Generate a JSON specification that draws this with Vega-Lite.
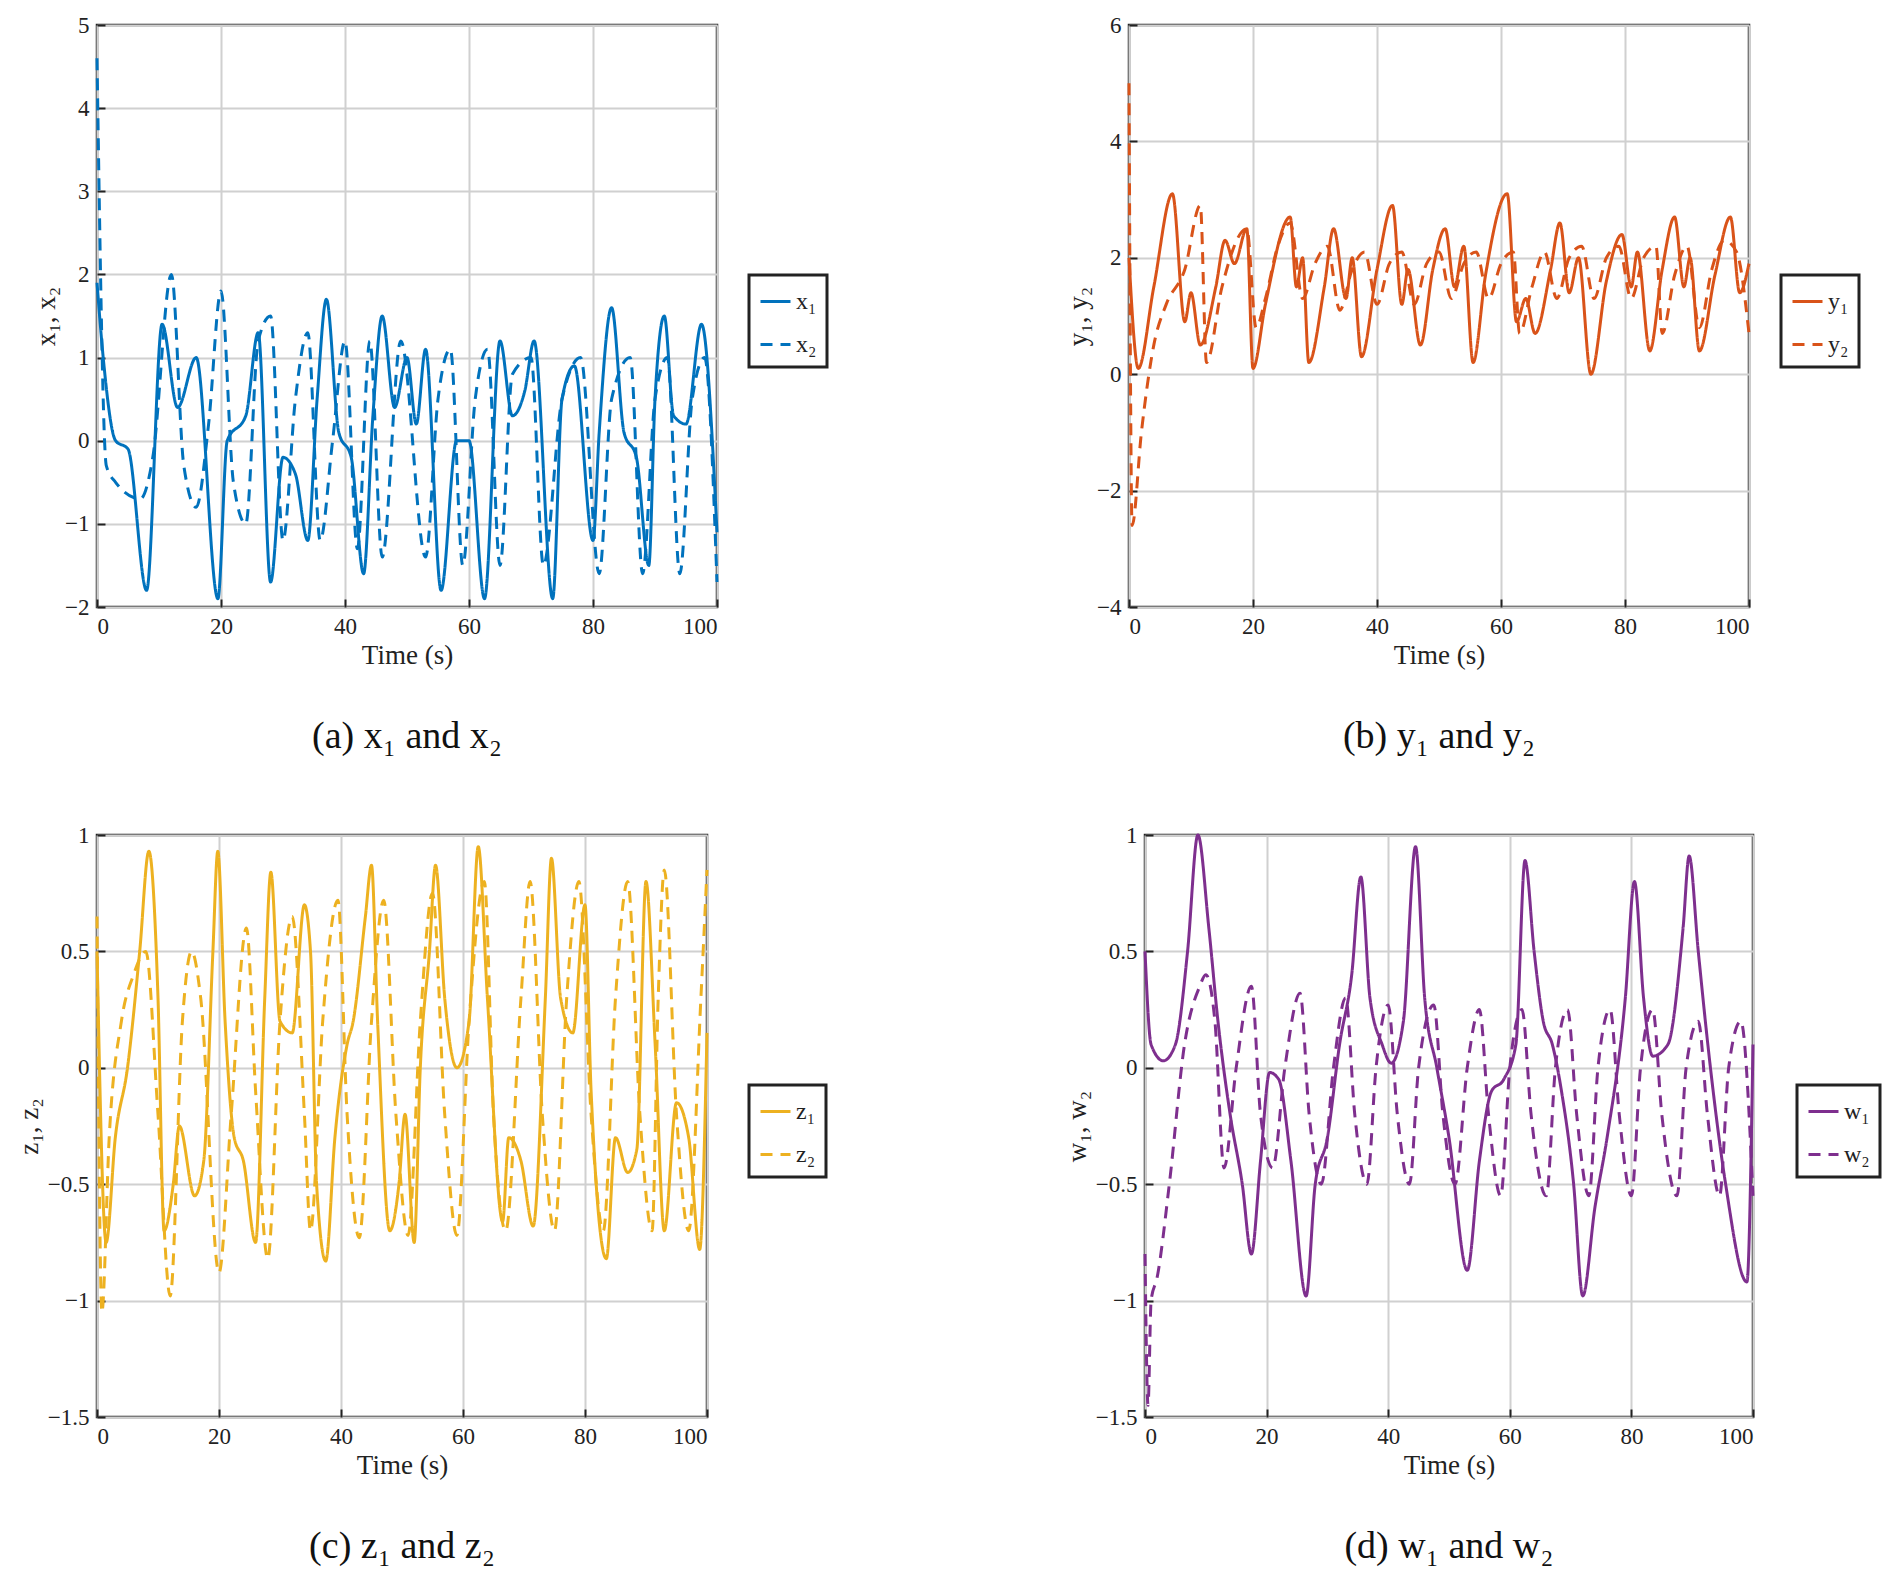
{
  "$schema": "https://vega.github.io/schema/vega-lite/v6.json",
  "background": "white",
  "padding": {"left": 14, "top": 12, "right": 10, "bottom": 10},
  "config": {
    "font": "Liberation Serif",
    "view": {"stroke": "#222", "strokeWidth": 2.5},
    "axis": {"labelFont": "Liberation Serif", "titleFont": "Liberation Serif", "labelFontSize": 23, "titleFontSize": 27, "titleFontWeight": "normal", "labelColor": "#222", "titleColor": "#222", "gridColor": "#d0d0d0", "gridWidth": 2, "domain": false, "tickColor": "#222", "tickWidth": 2, "tickSize": -8, "labelPadding": 16, "format": "~r"},
    "legend": {"orient": "none", "legendX": 652, "legendY": 250, "title": null, "strokeColor": "#222", "strokeWidth": 3, "padding": 10, "fillColor": "white", "labelFont": "Liberation Serif", "labelFontSize": 24, "symbolType": "stroke", "symbolSize": 900, "symbolStrokeWidth": 3, "rowPadding": 14, "labelColor": "#222", "direction": "vertical"},
    "title": {"orient": "bottom", "font": "Liberation Serif", "fontSize": 38, "fontWeight": "normal", "color": "#111", "offset": 50},
    "line": {"strokeWidth": 3, "interpolate": "monotone"}
  },
  "datasets": {
    "a": [
      {"s":"x₁","t":0,"v":1.9},{"s":"x₁","t":1,"v":1.0},{"s":"x₁","t":3,"v":0.0},{"s":"x₁","t":5,"v":-0.1},{"s":"x₁","t":8,"v":-1.8},{"s":"x₁","t":10.5,"v":1.4},{"s":"x₁","t":13,"v":0.4},{"s":"x₁","t":16,"v":1.0},{"s":"x₁","t":19.5,"v":-1.9},{"s":"x₁","t":21,"v":0},{"s":"x₁","t":24,"v":0.3},{"s":"x₁","t":26,"v":1.3},{"s":"x₁","t":28,"v":-1.7},{"s":"x₁","t":30,"v":-0.2},{"s":"x₁","t":32,"v":-0.4},{"s":"x₁","t":34,"v":-1.2},{"s":"x₁","t":35.5,"v":0.5},{"s":"x₁","t":37,"v":1.7},{"s":"x₁","t":39,"v":0.1},{"s":"x₁","t":41,"v":-0.2},{"s":"x₁","t":43,"v":-1.6},{"s":"x₁","t":44.5,"v":0.3},{"s":"x₁","t":46,"v":1.5},{"s":"x₁","t":48,"v":0.4},{"s":"x₁","t":50,"v":1.0},{"s":"x₁","t":51.5,"v":0.2},{"s":"x₁","t":53,"v":1.1},{"s":"x₁","t":55.5,"v":-1.8},{"s":"x₁","t":58,"v":0.0},{"s":"x₁","t":60,"v":0},{"s":"x₁","t":62.5,"v":-1.9},{"s":"x₁","t":65,"v":1.2},{"s":"x₁","t":67,"v":0.3},{"s":"x₁","t":69,"v":0.6},{"s":"x₁","t":70.5,"v":1.2},{"s":"x₁","t":73.5,"v":-1.9},{"s":"x₁","t":75,"v":0.5},{"s":"x₁","t":77,"v":0.9},{"s":"x₁","t":80,"v":-1.2},{"s":"x₁","t":81,"v":0.1},{"s":"x₁","t":83,"v":1.6},{"s":"x₁","t":85,"v":0.1},{"s":"x₁","t":87,"v":-0.2},{"s":"x₁","t":89,"v":-1.5},{"s":"x₁","t":90,"v":0.5},{"s":"x₁","t":91.5,"v":1.5},{"s":"x₁","t":93,"v":0.3},{"s":"x₁","t":95,"v":0.2},{"s":"x₁","t":97.5,"v":1.4},{"s":"x₁","t":100,"v":-1.1},
      {"s":"x₂","t":0,"v":4.6},{"s":"x₂","t":1.5,"v":-0.3},{"s":"x₂","t":3,"v":-0.5},{"s":"x₂","t":7,"v":-0.7},{"s":"x₂","t":9,"v":-0.2},{"s":"x₂","t":12,"v":2.0},{"s":"x₂","t":14,"v":-0.3},{"s":"x₂","t":16,"v":-0.8},{"s":"x₂","t":18,"v":0.2},{"s":"x₂","t":20,"v":1.8},{"s":"x₂","t":22,"v":-0.5},{"s":"x₂","t":24,"v":-1.0},{"s":"x₂","t":26,"v":1.2},{"s":"x₂","t":28,"v":1.5},{"s":"x₂","t":30,"v":-1.2},{"s":"x₂","t":32,"v":0.5},{"s":"x₂","t":34,"v":1.3},{"s":"x₂","t":36,"v":-1.2},{"s":"x₂","t":38,"v":0},{"s":"x₂","t":40,"v":1.2},{"s":"x₂","t":42,"v":-1.3},{"s":"x₂","t":44,"v":1.2},{"s":"x₂","t":46,"v":-1.4},{"s":"x₂","t":49,"v":1.2},{"s":"x₂","t":53,"v":-1.4},{"s":"x₂","t":55,"v":0.5},{"s":"x₂","t":57,"v":1.1},{"s":"x₂","t":59,"v":-1.5},{"s":"x₂","t":61,"v":0.5},{"s":"x₂","t":63,"v":1.1},{"s":"x₂","t":65,"v":-1.5},{"s":"x₂","t":67,"v":0.8},{"s":"x₂","t":70,"v":1.0},{"s":"x₂","t":72,"v":-1.5},{"s":"x₂","t":75,"v":0.5},{"s":"x₂","t":78,"v":1.0},{"s":"x₂","t":81,"v":-1.6},{"s":"x₂","t":83,"v":0.5},{"s":"x₂","t":86,"v":1.0},{"s":"x₂","t":88,"v":-1.6},{"s":"x₂","t":90,"v":0.5},{"s":"x₂","t":92,"v":1.0},{"s":"x₂","t":94,"v":-1.6},{"s":"x₂","t":96,"v":0.5},{"s":"x₂","t":98,"v":1.0},{"s":"x₂","t":100,"v":-1.7}
    ],
    "b": [
      {"s":"y₁","t":0,"v":2.0},{"s":"y₁","t":1.5,"v":0.1},{"s":"y₁","t":4,"v":1.5},{"s":"y₁","t":7,"v":3.1},{"s":"y₁","t":9,"v":0.9},{"s":"y₁","t":10,"v":1.4},{"s":"y₁","t":11.5,"v":0.5},{"s":"y₁","t":14,"v":1.5},{"s":"y₁","t":15.5,"v":2.3},{"s":"y₁","t":17,"v":1.9},{"s":"y₁","t":19,"v":2.5},{"s":"y₁","t":20,"v":0.1},{"s":"y₁","t":22,"v":1.2},{"s":"y₁","t":26,"v":2.7},{"s":"y₁","t":27,"v":1.5},{"s":"y₁","t":28,"v":2.0},{"s":"y₁","t":29,"v":0.2},{"s":"y₁","t":31.5,"v":1.5},{"s":"y₁","t":33,"v":2.5},{"s":"y₁","t":35,"v":1.3},{"s":"y₁","t":36,"v":2.0},{"s":"y₁","t":37.5,"v":0.3},{"s":"y₁","t":40,"v":1.8},{"s":"y₁","t":42.5,"v":2.9},{"s":"y₁","t":44,"v":1.2},{"s":"y₁","t":45,"v":1.8},{"s":"y₁","t":47,"v":0.5},{"s":"y₁","t":49,"v":1.8},{"s":"y₁","t":51,"v":2.5},{"s":"y₁","t":52.5,"v":1.5},{"s":"y₁","t":54,"v":2.2},{"s":"y₁","t":55.5,"v":0.2},{"s":"y₁","t":57.5,"v":1.7},{"s":"y₁","t":61,"v":3.1},{"s":"y₁","t":62.5,"v":0.9},{"s":"y₁","t":64,"v":1.3},{"s":"y₁","t":65.5,"v":0.7},{"s":"y₁","t":68,"v":1.8},{"s":"y₁","t":69.5,"v":2.6},{"s":"y₁","t":71,"v":1.4},{"s":"y₁","t":72.5,"v":2.0},{"s":"y₁","t":74.5,"v":0.0},{"s":"y₁","t":77,"v":1.6},{"s":"y₁","t":79.5,"v":2.4},{"s":"y₁","t":81,"v":1.5},{"s":"y₁","t":82,"v":2.1},{"s":"y₁","t":84,"v":0.4},{"s":"y₁","t":86,"v":1.8},{"s":"y₁","t":88,"v":2.7},{"s":"y₁","t":89.5,"v":1.5},{"s":"y₁","t":90.5,"v":2.0},{"s":"y₁","t":92,"v":0.4},{"s":"y₁","t":94.5,"v":1.7},{"s":"y₁","t":97,"v":2.7},{"s":"y₁","t":98.5,"v":1.4},{"s":"y₁","t":100,"v":1.9},
      {"s":"y₂","t":0,"v":5.0},{"s":"y₂","t":0.5,"v":-2.6},{"s":"y₂","t":2,"v":-1.0},{"s":"y₂","t":4,"v":0.5},{"s":"y₂","t":6,"v":1.2},{"s":"y₂","t":9,"v":1.8},{"s":"y₂","t":11.5,"v":2.9},{"s":"y₂","t":12.5,"v":0.2},{"s":"y₂","t":15,"v":1.5},{"s":"y₂","t":19,"v":2.5},{"s":"y₂","t":20.5,"v":0.8},{"s":"y₂","t":22,"v":1.3},{"s":"y₂","t":24,"v":2.2},{"s":"y₂","t":26,"v":2.6},{"s":"y₂","t":28,"v":1.3},{"s":"y₂","t":30,"v":1.9},{"s":"y₂","t":32,"v":2.2},{"s":"y₂","t":34,"v":1.1},{"s":"y₂","t":36,"v":1.8},{"s":"y₂","t":38,"v":2.1},{"s":"y₂","t":40,"v":1.2},{"s":"y₂","t":42,"v":1.9},{"s":"y₂","t":44,"v":2.1},{"s":"y₂","t":46,"v":1.2},{"s":"y₂","t":48,"v":1.9},{"s":"y₂","t":50,"v":2.1},{"s":"y₂","t":52,"v":1.3},{"s":"y₂","t":54,"v":1.9},{"s":"y₂","t":56,"v":2.1},{"s":"y₂","t":58,"v":1.3},{"s":"y₂","t":60,"v":1.9},{"s":"y₂","t":62,"v":2.1},{"s":"y₂","t":63,"v":0.7},{"s":"y₂","t":65,"v":1.5},{"s":"y₂","t":67,"v":2.1},{"s":"y₂","t":69,"v":1.3},{"s":"y₂","t":71,"v":2.0},{"s":"y₂","t":73,"v":2.2},{"s":"y₂","t":75,"v":1.3},{"s":"y₂","t":77,"v":2.0},{"s":"y₂","t":79,"v":2.2},{"s":"y₂","t":81,"v":1.3},{"s":"y₂","t":83,"v":2.0},{"s":"y₂","t":85,"v":2.2},{"s":"y₂","t":86,"v":0.7},{"s":"y₂","t":88,"v":1.7},{"s":"y₂","t":90,"v":2.2},{"s":"y₂","t":92,"v":0.8},{"s":"y₂","t":94,"v":1.8},{"s":"y₂","t":96,"v":2.3},{"s":"y₂","t":98,"v":2.1},{"s":"y₂","t":100,"v":0.7}
    ],
    "c": [
      {"s":"z₁","t":0,"v":0.5},{"s":"z₁","t":1.5,"v":-0.75},{"s":"z₁","t":3,"v":-0.3},{"s":"z₁","t":5,"v":0},{"s":"z₁","t":7,"v":0.5},{"s":"z₁","t":8.5,"v":0.93},{"s":"z₁","t":10,"v":0.3},{"s":"z₁","t":11,"v":-0.7},{"s":"z₁","t":12.5,"v":-0.5},{"s":"z₁","t":13.5,"v":-0.25},{"s":"z₁","t":16,"v":-0.55},{"s":"z₁","t":17.5,"v":-0.4},{"s":"z₁","t":19,"v":0.5},{"s":"z₁","t":19.8,"v":0.93},{"s":"z₁","t":21,"v":0.2},{"s":"z₁","t":22.5,"v":-0.3},{"s":"z₁","t":24,"v":-0.4},{"s":"z₁","t":26,"v":-0.75},{"s":"z₁","t":27.5,"v":0.3},{"s":"z₁","t":28.5,"v":0.84},{"s":"z₁","t":30,"v":0.2},{"s":"z₁","t":32,"v":0.15},{"s":"z₁","t":34,"v":0.7},{"s":"z₁","t":35,"v":0.5},{"s":"z₁","t":36,"v":-0.5},{"s":"z₁","t":37.5,"v":-0.83},{"s":"z₁","t":39,"v":-0.3},{"s":"z₁","t":41,"v":0.1},{"s":"z₁","t":42,"v":0.2},{"s":"z₁","t":44,"v":0.65},{"s":"z₁","t":45,"v":0.87},{"s":"z₁","t":46,"v":0.2},{"s":"z₁","t":48,"v":-0.7},{"s":"z₁","t":49.5,"v":-0.5},{"s":"z₁","t":50.5,"v":-0.2},{"s":"z₁","t":52,"v":-0.75},{"s":"z₁","t":53,"v":0},{"s":"z₁","t":54.5,"v":0.5},{"s":"z₁","t":55.5,"v":0.87},{"s":"z₁","t":57,"v":0.3},{"s":"z₁","t":59,"v":0.0},{"s":"z₁","t":61,"v":0.2},{"s":"z₁","t":62.5,"v":0.95},{"s":"z₁","t":64,"v":0.3},{"s":"z₁","t":66.5,"v":-0.66},{"s":"z₁","t":67.5,"v":-0.3},{"s":"z₁","t":69.5,"v":-0.4},{"s":"z₁","t":71.5,"v":-0.68},{"s":"z₁","t":73.5,"v":0.3},{"s":"z₁","t":74.5,"v":0.9},{"s":"z₁","t":76,"v":0.3},{"s":"z₁","t":78,"v":0.15},{"s":"z₁","t":80,"v":0.7},{"s":"z₁","t":81,"v":-0.1},{"s":"z₁","t":83.5,"v":-0.82},{"s":"z₁","t":85,"v":-0.3},{"s":"z₁","t":87,"v":-0.45},{"s":"z₁","t":88.5,"v":-0.35},{"s":"z₁","t":90,"v":0.8},{"s":"z₁","t":91.5,"v":0.1},{"s":"z₁","t":93,"v":-0.7},{"s":"z₁","t":95,"v":-0.15},{"s":"z₁","t":97,"v":-0.3},{"s":"z₁","t":98.8,"v":-0.78},{"s":"z₁","t":100,"v":0.15},
      {"s":"z₂","t":0,"v":0.65},{"s":"z₂","t":0.8,"v":-1.05},{"s":"z₂","t":2,"v":-0.3},{"s":"z₂","t":4,"v":0.2},{"s":"z₂","t":6,"v":0.4},{"s":"z₂","t":8,"v":0.5},{"s":"z₂","t":10,"v":-0.2},{"s":"z₂","t":12,"v":-0.98},{"s":"z₂","t":14,"v":0.2},{"s":"z₂","t":15.5,"v":0.5},{"s":"z₂","t":17,"v":0.3},{"s":"z₂","t":20,"v":-0.88},{"s":"z₂","t":22,"v":-0.2},{"s":"z₂","t":24.5,"v":0.6},{"s":"z₂","t":26,"v":-0.1},{"s":"z₂","t":28,"v":-0.82},{"s":"z₂","t":30,"v":0.2},{"s":"z₂","t":32,"v":0.65},{"s":"z₂","t":34,"v":-0.2},{"s":"z₂","t":35,"v":-0.7},{"s":"z₂","t":37,"v":0.2},{"s":"z₂","t":39.5,"v":0.72},{"s":"z₂","t":41,"v":-0.2},{"s":"z₂","t":43,"v":-0.73},{"s":"z₂","t":45,"v":0.2},{"s":"z₂","t":47,"v":0.72},{"s":"z₂","t":49,"v":-0.2},{"s":"z₂","t":51,"v":-0.72},{"s":"z₂","t":53,"v":0.2},{"s":"z₂","t":55,"v":0.75},{"s":"z₂","t":57,"v":-0.2},{"s":"z₂","t":59,"v":-0.72},{"s":"z₂","t":61,"v":0.2},{"s":"z₂","t":63.5,"v":0.8},{"s":"z₂","t":65,"v":-0.2},{"s":"z₂","t":67,"v":-0.7},{"s":"z₂","t":69.5,"v":0.3},{"s":"z₂","t":71,"v":0.8},{"s":"z₂","t":73,"v":-0.2},{"s":"z₂","t":75,"v":-0.7},{"s":"z₂","t":77,"v":0.3},{"s":"z₂","t":79,"v":0.8},{"s":"z₂","t":81,"v":-0.2},{"s":"z₂","t":83,"v":-0.7},{"s":"z₂","t":85,"v":0.3},{"s":"z₂","t":87,"v":0.8},{"s":"z₂","t":89,"v":-0.2},{"s":"z₂","t":91,"v":-0.7},{"s":"z₂","t":92,"v":0.3},{"s":"z₂","t":93,"v":0.85},{"s":"z₂","t":95,"v":-0.2},{"s":"z₂","t":97,"v":-0.7},{"s":"z₂","t":99,"v":0.3},{"s":"z₂","t":100,"v":0.85}
    ],
    "d": [
      {"s":"w₁","t":0,"v":0.5},{"s":"w₁","t":1,"v":0.1},{"s":"w₁","t":3,"v":0.03},{"s":"w₁","t":5,"v":0.1},{"s":"w₁","t":7,"v":0.5},{"s":"w₁","t":8.7,"v":1.0},{"s":"w₁","t":10.5,"v":0.6},{"s":"w₁","t":12,"v":0.2},{"s":"w₁","t":14,"v":-0.2},{"s":"w₁","t":16,"v":-0.5},{"s":"w₁","t":17.5,"v":-0.8},{"s":"w₁","t":19,"v":-0.4},{"s":"w₁","t":20.5,"v":-0.02},{"s":"w₁","t":22,"v":-0.05},{"s":"w₁","t":24,"v":-0.4},{"s":"w₁","t":26.5,"v":-0.98},{"s":"w₁","t":28,"v":-0.5},{"s":"w₁","t":30,"v":-0.3},{"s":"w₁","t":32,"v":0.1},{"s":"w₁","t":34,"v":0.4},{"s":"w₁","t":35.5,"v":0.82},{"s":"w₁","t":37,"v":0.3},{"s":"w₁","t":39,"v":0.1},{"s":"w₁","t":40.5,"v":0.02},{"s":"w₁","t":42.5,"v":0.2},{"s":"w₁","t":44.5,"v":0.95},{"s":"w₁","t":46,"v":0.3},{"s":"w₁","t":48,"v":0.0},{"s":"w₁","t":50,"v":-0.3},{"s":"w₁","t":53,"v":-0.87},{"s":"w₁","t":55,"v":-0.4},{"s":"w₁","t":57,"v":-0.1},{"s":"w₁","t":59,"v":-0.05},{"s":"w₁","t":61,"v":0.1},{"s":"w₁","t":62.5,"v":0.89},{"s":"w₁","t":64,"v":0.5},{"s":"w₁","t":65.5,"v":0.2},{"s":"w₁","t":67,"v":0.1},{"s":"w₁","t":68.5,"v":-0.1},{"s":"w₁","t":70.5,"v":-0.5},{"s":"w₁","t":72,"v":-0.98},{"s":"w₁","t":74,"v":-0.6},{"s":"w₁","t":76,"v":-0.3},{"s":"w₁","t":79,"v":0.3},{"s":"w₁","t":80.5,"v":0.8},{"s":"w₁","t":82,"v":0.3},{"s":"w₁","t":83.5,"v":0.05},{"s":"w₁","t":86,"v":0.1},{"s":"w₁","t":88.5,"v":0.6},{"s":"w₁","t":89.5,"v":0.91},{"s":"w₁","t":91,"v":0.5},{"s":"w₁","t":93,"v":0.0},{"s":"w₁","t":95.5,"v":-0.5},{"s":"w₁","t":99,"v":-0.92},{"s":"w₁","t":100,"v":0.1},
      {"s":"w₂","t":0,"v":-0.8},{"s":"w₂","t":0.5,"v":-1.45},{"s":"w₂","t":1,"v":-1.0},{"s":"w₂","t":2,"v":-0.9},{"s":"w₂","t":4,"v":-0.5},{"s":"w₂","t":6.5,"v":0.1},{"s":"w₂","t":9,"v":0.35},{"s":"w₂","t":10,"v":0.4},{"s":"w₂","t":11.5,"v":0.2},{"s":"w₂","t":13,"v":-0.43},{"s":"w₂","t":15,"v":0.0},{"s":"w₂","t":17.5,"v":0.35},{"s":"w₂","t":19,"v":-0.2},{"s":"w₂","t":21,"v":-0.43},{"s":"w₂","t":23,"v":0.0},{"s":"w₂","t":25.5,"v":0.32},{"s":"w₂","t":27,"v":-0.2},{"s":"w₂","t":29,"v":-0.5},{"s":"w₂","t":31,"v":0.0},{"s":"w₂","t":33,"v":0.3},{"s":"w₂","t":34.5,"v":-0.2},{"s":"w₂","t":36.5,"v":-0.5},{"s":"w₂","t":38,"v":0.0},{"s":"w₂","t":40,"v":0.27},{"s":"w₂","t":41.5,"v":-0.2},{"s":"w₂","t":43.5,"v":-0.5},{"s":"w₂","t":45,"v":0.0},{"s":"w₂","t":47.5,"v":0.27},{"s":"w₂","t":49,"v":-0.2},{"s":"w₂","t":51,"v":-0.5},{"s":"w₂","t":53,"v":0.0},{"s":"w₂","t":55,"v":0.25},{"s":"w₂","t":56.5,"v":-0.2},{"s":"w₂","t":58.5,"v":-0.55},{"s":"w₂","t":60,"v":0.0},{"s":"w₂","t":62,"v":0.25},{"s":"w₂","t":63.5,"v":-0.2},{"s":"w₂","t":66,"v":-0.55},{"s":"w₂","t":67.5,"v":0.0},{"s":"w₂","t":69.5,"v":0.25},{"s":"w₂","t":71,"v":-0.2},{"s":"w₂","t":73,"v":-0.55},{"s":"w₂","t":74.5,"v":0.0},{"s":"w₂","t":76.5,"v":0.25},{"s":"w₂","t":78,"v":-0.2},{"s":"w₂","t":80,"v":-0.55},{"s":"w₂","t":81.5,"v":0.0},{"s":"w₂","t":83.5,"v":0.25},{"s":"w₂","t":85,"v":-0.2},{"s":"w₂","t":87.5,"v":-0.55},{"s":"w₂","t":89,"v":0.0},{"s":"w₂","t":91,"v":0.2},{"s":"w₂","t":92.5,"v":-0.2},{"s":"w₂","t":94.5,"v":-0.55},{"s":"w₂","t":96,"v":0.0},{"s":"w₂","t":98,"v":0.2},{"s":"w₂","t":100,"v":-0.55}
    ]
  },
  "resolve": {"scale": {"color": "independent", "strokeDash": "independent"}, "legend": {"color": "independent", "strokeDash": "independent"}},
  "vconcat": [
    {
      "hconcat": [
        {
          "data": {"name": "a"}, "width": 620, "height": 582, "mark": "line",
          "title": "(a) x₁ and x₂",
          "encoding": {
            "x": {"field": "t", "type": "quantitative", "title": "Time (s)", "scale": {"domain": [0, 100], "nice": false}, "axis": {"values": [0, 20, 40, 60, 80, 100]}},
            "y": {"field": "v", "type": "quantitative", "title": "x₁, x₂", "scale": {"domain": [-2, 5], "nice": false}, "axis": {"values": [-2, -1, 0, 1, 2, 3, 4, 5]}},
            "color": {"field": "s", "type": "nominal", "scale": {"range": ["#0072BD", "#0072BD"]}},
            "strokeDash": {"field": "s", "type": "nominal", "scale": {"range": [[1, 0], [12, 8]]}}
          }
        },
        {
          "data": {"name": "b"}, "width": 620, "height": 582, "mark": "line",
          "title": "(b) y₁ and y₂",
          "encoding": {
            "x": {"field": "t", "type": "quantitative", "title": "Time (s)", "scale": {"domain": [0, 100], "nice": false}, "axis": {"values": [0, 20, 40, 60, 80, 100]}},
            "y": {"field": "v", "type": "quantitative", "title": "y₁, y₂", "scale": {"domain": [-4, 6], "nice": false}, "axis": {"values": [-4, -2, 0, 2, 4, 6]}},
            "color": {"field": "s", "type": "nominal", "scale": {"range": ["#D95319", "#D95319"]}},
            "strokeDash": {"field": "s", "type": "nominal", "scale": {"range": [[1, 0], [12, 8]]}}
          }
        }
      ],
      "spacing": 233,
      "resolve": {"scale": {"color": "independent", "strokeDash": "independent"}, "legend": {"color": "independent", "strokeDash": "independent"}}
    },
    {
      "hconcat": [
        {
          "data": {"name": "c"}, "width": 610, "height": 582, "mark": "line",
          "title": "(c) z₁ and z₂",
          "encoding": {
            "x": {"field": "t", "type": "quantitative", "title": "Time (s)", "scale": {"domain": [0, 100], "nice": false}, "axis": {"values": [0, 20, 40, 60, 80, 100]}},
            "y": {"field": "v", "type": "quantitative", "title": "z₁, z₂", "scale": {"domain": [-1.5, 1], "nice": false}, "axis": {"values": [-1.5, -1, -0.5, 0, 0.5, 1]}},
            "color": {"field": "s", "type": "nominal", "scale": {"range": ["#EDB120", "#EDB120"]}},
            "strokeDash": {"field": "s", "type": "nominal", "scale": {"range": [[1, 0], [12, 8]]}}
          }
        },
        {
          "data": {"name": "d"}, "width": 608, "height": 582, "mark": "line",
          "title": "(d) w₁ and w₂",
          "encoding": {
            "x": {"field": "t", "type": "quantitative", "title": "Time (s)", "scale": {"domain": [0, 100], "nice": false}, "axis": {"values": [0, 20, 40, 60, 80, 100]}},
            "y": {"field": "v", "type": "quantitative", "title": "w₁, w₂", "scale": {"domain": [-1.5, 1], "nice": false}, "axis": {"values": [-1.5, -1, -0.5, 0, 0.5, 1]}},
            "color": {"field": "s", "type": "nominal", "scale": {"range": ["#7E2F8E", "#7E2F8E"]}},
            "strokeDash": {"field": "s", "type": "nominal", "scale": {"range": [[1, 0], [12, 8]]}}
          }
        }
      ],
      "spacing": 233,
      "resolve": {"scale": {"color": "independent", "strokeDash": "independent"}, "legend": {"color": "independent", "strokeDash": "independent"}}
    }
  ],
  "spacing": 64
}
